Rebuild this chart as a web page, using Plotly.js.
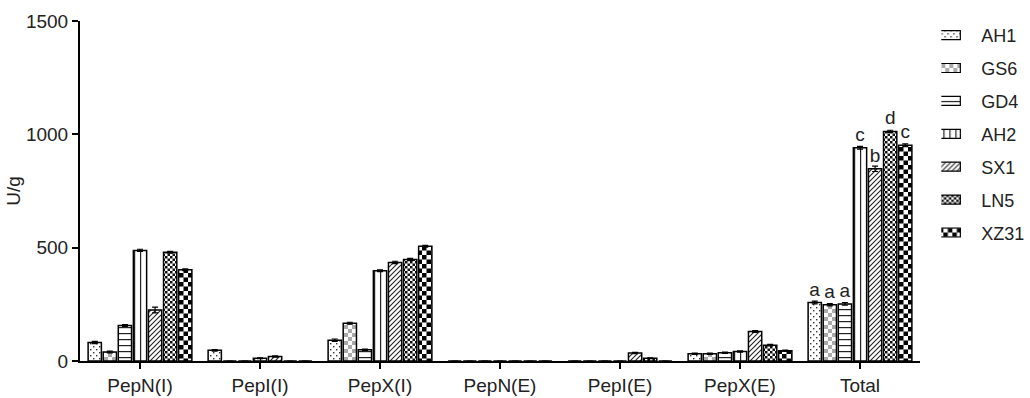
<!DOCTYPE html>
<html>
<head>
<meta charset="utf-8">
<script src="https://cdn.plot.ly/plotly-3.0.1.min.js"></script>
<style>html,body{margin:0;padding:0;background:#fff;}#chart{width:1030px;height:398px;}</style>
</head>
<body>
<div id="chart"></div>
<script>
const categories = ['PepN(I)','PepI(I)','PepX(I)','PepN(E)','PepI(E)','PepX(E)','Total'];
const seriesNames = ['AH1','GS6','GD4','AH2','SX1','LN5','XZ31'];
const AH1  = [82, 47, 92, 0, 0, 32, 258];
const GS6  = [40, 0, 167, 0, 0, 32, 248];
const GD4  = [157, 0, 50, 0, 0, 36, 252];
const AH2  = [488, 12, 398, 0, 0, 42, 941];
const SX1  = [225, 20, 435, 0, 35, 130, 848];
const LN5  = [480, 0, 448, 0, 12, 70, 1013];
const XZ31 = [403, 0, 506, 0, 0, 45, 952];
const AH1_err  = [5, 3, 5, 0, 0, 3, 6];
const GS6_err  = [4, 0, 4, 0, 0, 3, 5];
const GD4_err  = [4, 0, 3, 0, 0, 3, 6];
const AH2_err  = [5, 2, 4, 0, 0, 3, 6];
const SX1_err  = [13, 3, 5, 0, 3, 4, 12];
const LN5_err  = [4, 0, 5, 0, 2, 3, 5];
const XZ31_err = [4, 0, 4, 0, 0, 3, 6];
const totalLetters = ['a','a','a','c','b','d','c'];

const values = [AH1, GS6, GD4, AH2, SX1, LN5, XZ31];
const errs = [AH1_err, GS6_err, GD4_err, AH2_err, SX1_err, LN5_err, XZ31_err];
const patterns = [
  {shape: '.', fgcolor: '#000', bgcolor: '#fff', size: 6, solidity: 0.15},
  {shape: '+', fgcolor: '#999', bgcolor: '#fff', size: 6, solidity: 0.5},
  {shape: '-', fgcolor: '#000', bgcolor: '#fff', size: 5, solidity: 0.25},
  {shape: '|', fgcolor: '#000', bgcolor: '#fff', size: 6, solidity: 0.2},
  {shape: '/', fgcolor: '#000', bgcolor: '#fff', size: 5, solidity: 0.3},
  {shape: 'x', fgcolor: '#000', bgcolor: '#fff', size: 4, solidity: 0.5},
  {shape: '+', fgcolor: '#000', bgcolor: '#fff', size: 7, solidity: 0.55}
];

// SVG texture definitions (look only) applied to Plotly-drawn bars after render
const svgPatterns = [
  '<pattern id="tx0" patternUnits="userSpaceOnUse" width="6" height="6"><rect width="6" height="6" fill="#fff"/><rect x="1" y="1" width="1.4" height="1.4" fill="#333"/><rect x="4" y="4" width="1.4" height="1.4" fill="#333"/></pattern>',
  '<pattern id="tx1" patternUnits="userSpaceOnUse" width="8" height="8"><rect width="8" height="8" fill="#fff"/><rect x="0" y="0" width="4" height="4" fill="#aaa"/><rect x="4" y="4" width="4" height="4" fill="#aaa"/></pattern>',
  '<pattern id="tx2" patternUnits="userSpaceOnUse" width="6" height="6"><rect width="6" height="6" fill="#fff"/><rect x="0" y="0" width="6" height="1.2" fill="#222"/></pattern>',
  '<pattern id="tx3" patternUnits="userSpaceOnUse" width="6" height="6"><rect width="6" height="6" fill="#fff"/><rect x="0" y="0" width="1.2" height="6" fill="#222"/></pattern>',
  '<pattern id="tx4" patternUnits="userSpaceOnUse" width="5" height="5"><rect width="5" height="5" fill="#fff"/><path d="M-1,6 L6,-1 M-1,1 L1,-1 M4,6 L6,4" stroke="#222" stroke-width="1.1"/></pattern>',
  '<pattern id="tx5" patternUnits="userSpaceOnUse" width="5" height="5"><rect width="5" height="5" fill="#fff"/><rect x="0" y="0" width="2.5" height="2.5" fill="#111"/><rect x="2.5" y="2.5" width="2.5" height="2.5" fill="#111"/></pattern>',
  '<pattern id="tx6" patternUnits="userSpaceOnUse" width="9" height="9"><rect width="9" height="9" fill="#fff"/><rect x="0" y="0" width="4.5" height="4.5" fill="#000"/><rect x="4.5" y="4.5" width="4.5" height="4.5" fill="#000"/></pattern>'
];

const FONT = 'Liberation Sans, Arial, sans-serif';

const traces = seriesNames.map((name, i) => ({
  type: 'bar',
  name: name,
  x: categories,
  y: values[i],
  legendgroup: name,
  marker: {color: '#fff', line: {color: '#000', width: 1.5}, pattern: patterns[i]},
  error_y: {type: 'data', array: errs[i], visible: true, color: '#000', thickness: 1.2, width: 3},
  text: categories.map(c => c === 'Total' ? totalLetters[i] : ''),
  textposition: 'outside',
  textangle: 0,
  constraintext: 'none',
  cliponaxis: false,
  textfont: {family: FONT, size: 19, color: '#222'}
}));

const layout = {
  width: 1030, height: 398,
  margin: {l: 80, r: 110, t: 21, b: 37, autoexpand: false},
  paper_bgcolor: '#fff', plot_bgcolor: '#fff',
  font: {family: FONT, size: 18, color: '#222'},
  barmode: 'group',
  bargap: 0.12,
  bargroupgap: 0.12,
  showlegend: true,
  legend: {x: 1.0254, y: 1.012, xanchor: 'left', yanchor: 'top', tracegroupgap: 6.5, maxheight: 398,
           font: {size: 18, color: '#222'}, itemwidth: 30, bgcolor: 'rgba(0,0,0,0)'},
  xaxis: {
    type: 'category', range: [-0.5, 6.5], showline: true, linecolor: '#000', linewidth: 2,
    ticks: 'outside', ticklen: 6, tickwidth: 2, tickcolor: '#000', showgrid: false, zeroline: false,
    tickfont: {size: 19, color: '#222'}, fixedrange: true
  },
  yaxis: {
    range: [0, 1500], tickvals: [0, 500, 1000, 1500], showline: true, linecolor: '#000', linewidth: 2,
    ticks: 'outside', ticklen: 6, tickwidth: 2, tickcolor: '#000', showgrid: false, zeroline: false,
    tickfont: {size: 19, color: '#222'},
    title: {text: 'U/g', font: {size: 19, color: '#222'}, standoff: 0}
  },
  shapes: [{type: 'line', xref: 'paper', yref: 'y', x0: -0.009, x1: 0, y0: 0, y1: 0, line: {color: '#000', width: 2}}]
};

Plotly.newPlot('chart', traces, layout, {staticPlot: true, displayModeBar: false}).then(gd => {
  const svg = gd.querySelector('.main-svg');
  let defs = svg.querySelector('defs');
  const ns = 'http://www.w3.org/2000/svg';
  const holder = document.createElementNS(ns, 'g');
  holder.innerHTML = svgPatterns.join('');
  Array.from(holder.childNodes).forEach(n => defs.appendChild(n));
  const barTraces = gd.querySelectorAll('.barlayer .trace.bars');
  barTraces.forEach((t, i) => {
    t.querySelectorAll('path').forEach(p => { p.style.fill = 'url(#tx' + i + ')'; });
  });
  const legTraces = gd.querySelectorAll('.legend .traces');
  legTraces.forEach((t, i) => {
    t.querySelectorAll('.legendpoints path').forEach(p => {
      p.style.fill = 'url(#tx' + i + ')';
      p.setAttribute('d', 'M-1,4.5H-33V-4.5H-1Z');
      p.style.strokeWidth = '1.2px';
    });
  });
});
</script>
</body>
</html>
